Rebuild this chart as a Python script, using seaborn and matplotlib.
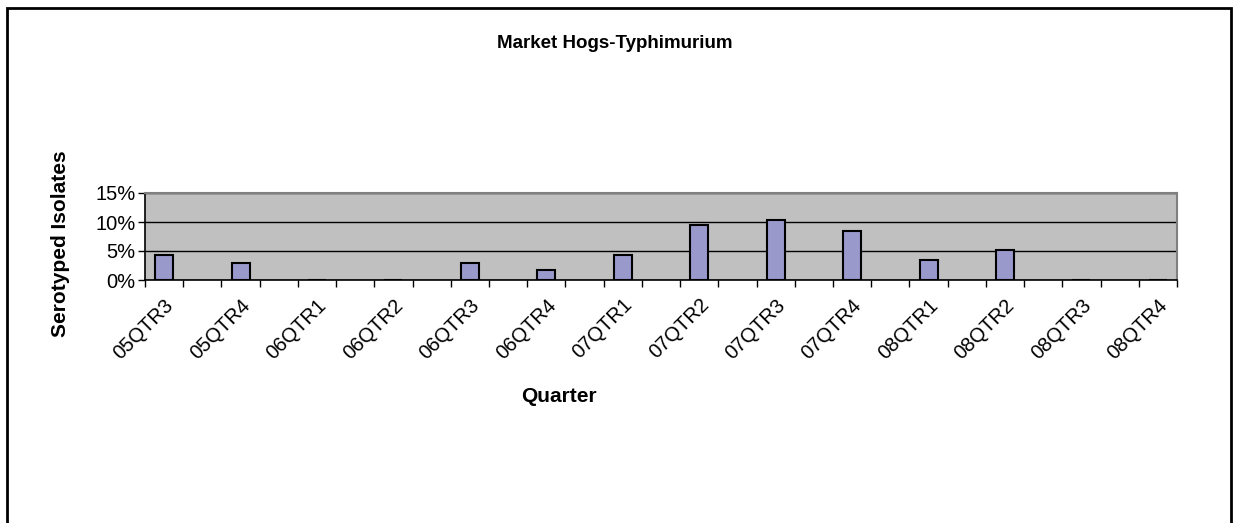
import numpy as np
import pandas as pd
import matplotlib
matplotlib.use("Agg")
import matplotlib.pyplot as plt
from matplotlib.patches import Rectangle
from matplotlib.ticker import FuncFormatter, FixedLocator
import seaborn as sns

quarters = ["05QTR3", "05QTR4", "06QTR1", "06QTR2", "06QTR3", "06QTR4", "07QTR1",
            "07QTR2", "07QTR3", "07QTR4", "08QTR1", "08QTR2", "08QTR3", "08QTR4"]
values = [4.3, 3.0, 0.0, 0.0, 3.0, 1.7, 4.3, 9.4, 10.4, 8.4, 3.4, 5.1, 0.0, 0.0]
yticks = [0, 5, 10, 15]

sns.set_theme(style="white")
plt.rcParams['font.family'] = ['Liberation Sans', 'DejaVu Sans']
for k in ["text.color", "axes.labelcolor", "xtick.color", "ytick.color"]:
    plt.rcParams[k] = "black"

pos = [2 * i for i in range(len(quarters))]
df = pd.DataFrame({"pos": pos, "value": [v / 100 for v in values]})

fig = plt.figure(figsize=(12.35, 5.23), dpi=100)
W, H = 1235, 523
ax = fig.add_axes([145 / W, 1 - 280 / H, (1177 - 145) / W, (280 - 193) / H])
ax.set_facecolor("#C0C0C0")

sns.barplot(data=df, x="pos", y="value", native_scale=True, width=0.235,
            color="#9999CC", saturation=1, edgecolor="black", linewidth=1.5,
            ax=ax, zorder=3)

ax.set_xlim(-0.5, 2 * len(quarters) - 1.5)
ax.set_ylim(0, 0.15)

# y axis
ax.set_yticks([t / 100 for t in yticks])
ax.yaxis.set_major_formatter(FuncFormatter(lambda v, p: f"{v * 100:.0f}%"))
ax.tick_params(axis="y", direction="out", length=5, width=1, color="black",
               labelsize=14.5, pad=2, left=True)
ax.yaxis.grid(True, color="black", linewidth=1)
ax.set_axisbelow(True)

# x axis: major ticks on slot borders, labels at minor positions
ax.xaxis.set_major_locator(FixedLocator(np.arange(-0.5, 2 * len(quarters) - 1, 1)))
ax.xaxis.set_major_formatter(FuncFormatter(lambda v, p: ""))
ax.xaxis.set_minor_locator(FixedLocator(pos))
ax.set_xticklabels(quarters, minor=True, rotation=45, ha="right",
                   rotation_mode="anchor", fontsize=14.5)
ax.tick_params(axis="x", which="major", direction="out", length=5, width=1,
               color="black", bottom=True)
ax.tick_params(axis="x", which="minor", length=0, pad=11, bottom=True)

ax.set_xlabel("")
ax.set_ylabel("")

for s in ["top", "right"]:
    ax.spines[s].set_color("#808080")
    ax.spines[s].set_linewidth(1.5)
for s in ["left", "bottom"]:
    ax.spines[s].set_color("black")
    ax.spines[s].set_linewidth(1.2)

fig.text(615 / W, 1 - 43 / H, "Market Hogs-Typhimurium", ha="center", va="center",
         fontsize=13.5, fontweight="bold")
fig.text(559 / W, 1 - 396 / H, "Quarter", ha="center", va="center",
         fontsize=15, fontweight="bold")
fig.text(60 / W, 1 - 244 / H, "Serotyped Isolates", ha="center", va="center",
         rotation=90, fontsize=15, fontweight="bold")

# outer chart border
fig.patches.append(Rectangle((7 / W, -0.05), (1231 - 7) / W, 1.05 - 8 / H,
                             transform=fig.transFigure, fill=False,
                             edgecolor="black", linewidth=2))

fig.savefig("out.png", dpi=100)
